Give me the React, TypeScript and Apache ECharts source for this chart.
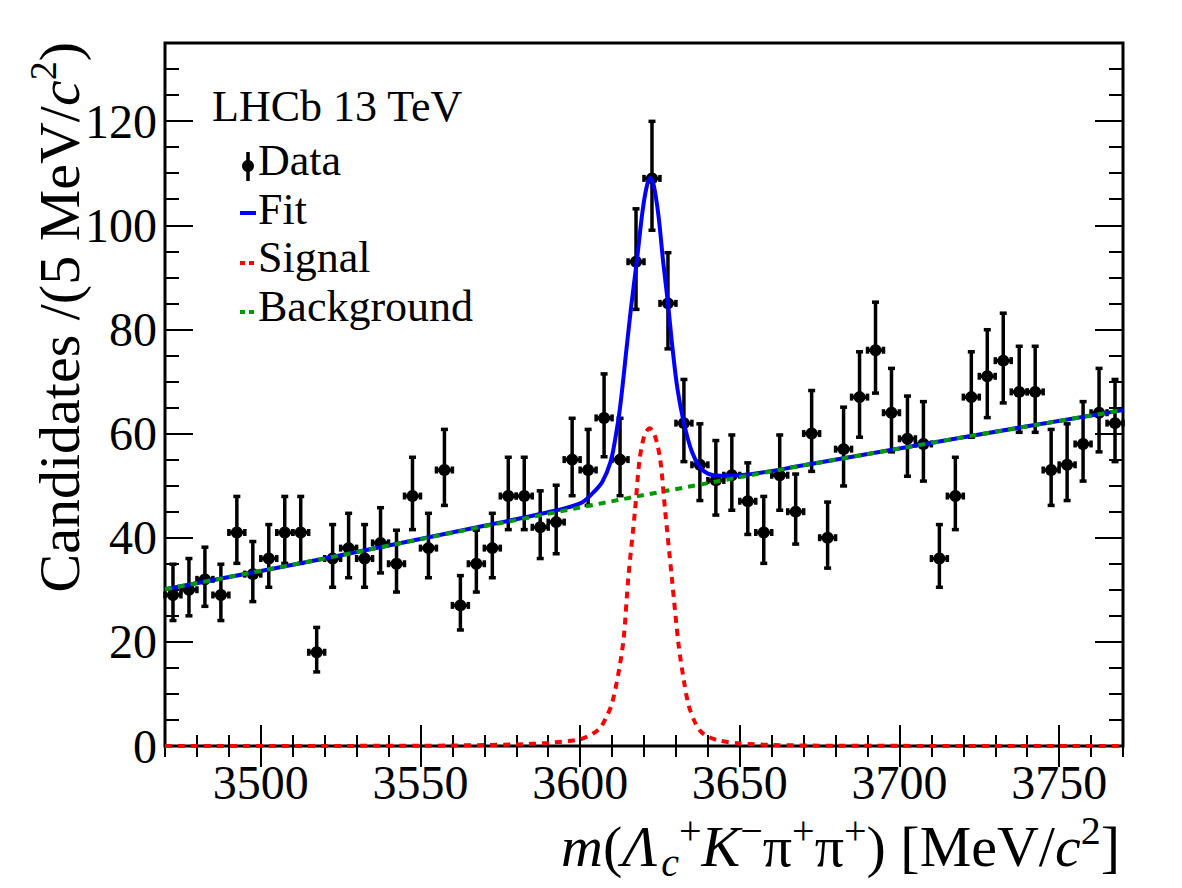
import React, { useEffect, useRef } from 'react';
import * as echarts from 'echarts';

// ---- data ----
const BIN_CENTERS = [
  3472.5, 3477.5, 3482.5, 3487.5, 3492.5, 3497.5, 3502.5, 3507.5, 3512.5, 3517.5,
  3522.5, 3527.5, 3532.5, 3537.5, 3542.5, 3547.5, 3552.5, 3557.5, 3562.5, 3567.5,
  3572.5, 3577.5, 3582.5, 3587.5, 3592.5, 3597.5, 3602.5, 3607.5, 3612.5, 3617.5,
  3622.5, 3627.5, 3632.5, 3637.5, 3642.5, 3647.5, 3652.5, 3657.5, 3662.5, 3667.5,
  3672.5, 3677.5, 3682.5, 3687.5, 3692.5, 3697.5, 3702.5, 3707.5, 3712.5, 3717.5,
  3722.5, 3727.5, 3732.5, 3737.5, 3742.5, 3747.5, 3752.5, 3757.5, 3762.5, 3767.5,
];
const COUNTS = [
  29, 30, 32, 29, 41, 33, 36, 41, 41, 18,
  36, 38, 36, 39, 35, 48, 38, 53, 27, 35,
  38, 48, 48, 42, 43, 55, 53, 63, 55, 93,
  109, 85, 62, 54, 51, 52, 47, 41, 52, 45,
  60, 40, 57, 67, 76, 64, 59, 58, 36, 48,
  67, 71, 74, 68, 68, 53, 54, 58, 64, 62,
];
const BIN_HALF_WIDTH = 2.5;

const FIT_X = [3470, 3520, 3570, 3590, 3600, 3604, 3607, 3609.5, 3611, 3612.5, 3614.6, 3616, 3617.8, 3619.5, 3620.8, 3621.9, 3623, 3624.5, 3626, 3627.5, 3629, 3630.5, 3632.5, 3635, 3637.5, 3640, 3644, 3650, 3670, 3720, 3770];
const FIT_Y = [30.1, 36.0, 42.3, 44.9, 46.6, 48.6, 50.8, 54.5, 59.0, 65.0, 76.7, 84.5, 93.4, 102.5, 107.3, 109.1, 107.8, 102, 93, 85, 76, 68.5, 62.0, 56.5, 53.6, 52.3, 51.9, 52.0, 53.9, 59.3, 64.5];

const SIG_X = [3470, 3550, 3580, 3590, 3600, 3604, 3606.3, 3608, 3609.9, 3612, 3613.6, 3615.1, 3617.2, 3618.6, 3620.2, 3621.8, 3623.4, 3625.1, 3626.6, 3628.7, 3630.8, 3632.5, 3633.9, 3635.7, 3637.6, 3640, 3643.9, 3650, 3660, 3680, 3770];
const SIG_Y = [0, 0.05, 0.3, 0.6, 1.3, 2.4, 3.5, 5.3, 8.0, 14.0, 20.5, 32.4, 45.3, 54.9, 59.8, 61.0, 59.6, 54.9, 45.3, 32.4, 19.6, 12.5, 8.0, 4.9, 2.9, 1.8, 1.0, 0.5, 0.2, 0.05, 0];

const BG_X = [3470, 3520, 3570, 3620, 3670, 3720, 3770];
const BG_Y = [30.1, 36.0, 42.2, 48.2, 53.9, 59.3, 64.5];

const X_MAJOR = [3500, 3550, 3600, 3650, 3700, 3750];
const X_MINOR = [3470, 3480, 3490, 3500, 3510, 3520, 3530, 3540, 3550, 3560, 3570, 3580, 3590, 3600, 3610, 3620, 3630, 3640, 3650, 3660, 3670, 3680, 3690, 3700, 3710, 3720, 3730, 3740, 3750, 3760, 3770];
const Y_MAJOR = [0, 20, 40, 60, 80, 100, 120];
const Y_MINOR = [0, 5, 10, 15, 20, 25, 30, 35, 40, 45, 50, 55, 60, 65, 70, 75, 80, 85, 90, 95, 100, 105, 110, 115, 120, 125, 130, 135];

const X_MIN = 3470;
const X_MAX = 3770;
const Y_MIN = 0;
const Y_MAX = 135;

const FONT = "'Liberation Serif', 'DejaVu Serif', serif";

export default function App() {
  const ref = useRef<HTMLDivElement>(null);

  useEffect(() => {
    if (!ref.current) return;
    const chart = echarts.init(ref.current, undefined, { renderer: 'svg' });

    // Poisson-style asymmetric errors derived from the counts
    const points = COUNTS.map((n, i) => {
      const s = Math.sqrt(n + 0.25);
      return [BIN_CENTERS[i], n, s - 0.5, s + 0.5];
    });

    const tickStyle = { color: '#000', width: 2 };
    const xBase = { type: 'value', min: X_MIN, max: X_MAX, splitLine: { show: false }, axisLine: { show: false } };
    const yBase = { type: 'value', min: Y_MIN, max: Y_MAX, splitLine: { show: false }, axisLine: { show: false } };
    const plain = (v: number) => String(v);
    const legendText = (text: string, x: number, y: number) => ({
      type: 'text', x, y,
      style: { text, fontSize: 44, lineHeight: 44, fontFamily: FONT, fill: '#000', verticalAlign: 'middle' },
    });

    const option: any = {
      animation: false,
      backgroundColor: '#fff',
      grid: {
        left: 165, right: 59, top: 43, bottom: 142,
        show: true, borderColor: '#000', borderWidth: 3, backgroundColor: 'transparent',
      },
      xAxis: [
        {
          ...xBase, position: 'bottom',
          axisTick: { inside: true, length: 21, lineStyle: tickStyle, customValues: X_MAJOR },
          axisLabel: { customValues: X_MAJOR, formatter: plain, fontSize: 48, color: '#000', fontFamily: FONT, margin: 12 },
        },
        {
          ...xBase, position: 'bottom',
          axisTick: { inside: true, length: 11, lineStyle: tickStyle, customValues: X_MINOR },
          axisLabel: { show: false },
        },
        {
          ...xBase, position: 'top',
          axisTick: { inside: true, length: 21, lineStyle: tickStyle, customValues: X_MAJOR },
          axisLabel: { show: false },
        },
        {
          ...xBase, position: 'top',
          axisTick: { inside: true, length: 11, lineStyle: tickStyle, customValues: X_MINOR },
          axisLabel: { show: false },
        },
      ],
      yAxis: [
        {
          ...yBase, position: 'left',
          axisTick: { inside: true, length: 28, lineStyle: tickStyle, customValues: Y_MAJOR },
          axisLabel: { customValues: Y_MAJOR, formatter: plain, fontSize: 48, color: '#000', fontFamily: FONT, margin: 8 },
        },
        {
          ...yBase, position: 'left',
          axisTick: { inside: true, length: 14, lineStyle: tickStyle, customValues: Y_MINOR },
          axisLabel: { show: false },
        },
        {
          ...yBase, position: 'right',
          axisTick: { inside: true, length: 28, lineStyle: tickStyle, customValues: Y_MAJOR },
          axisLabel: { show: false },
        },
        {
          ...yBase, position: 'right',
          axisTick: { inside: true, length: 14, lineStyle: tickStyle, customValues: Y_MINOR },
          axisLabel: { show: false },
        },
      ],
      series: [
        {
          name: 'Data',
          type: 'custom',
          xAxisIndex: 0,
          yAxisIndex: 0,
          z: 2,
          encode: { x: 0, y: 1 },
          data: points,
          renderItem: (params: any, api: any) => {
            const x = api.value(0);
            const y = api.value(1);
            const lo = api.value(2);
            const hi = api.value(3);
            const c = api.coord([x, y]);
            const top = api.coord([x, y + hi]);
            const bot = api.coord([x, y - lo]);
            const l = api.coord([x - BIN_HALF_WIDTH, y]);
            const r = api.coord([x + BIN_HALF_WIDTH, y]);
            const st = { stroke: '#000', lineWidth: 3.5 };
            const cap = 3.5;
            return {
              type: 'group',
              children: [
                { type: 'line', shape: { x1: c[0], y1: top[1], x2: c[0], y2: bot[1] }, style: st },
                { type: 'line', shape: { x1: c[0] - cap, y1: top[1], x2: c[0] + cap, y2: top[1] }, style: st },
                { type: 'line', shape: { x1: c[0] - cap, y1: bot[1], x2: c[0] + cap, y2: bot[1] }, style: st },
                { type: 'line', shape: { x1: l[0], y1: c[1], x2: r[0], y2: c[1] }, style: st },
                { type: 'line', shape: { x1: l[0], y1: c[1] - cap, x2: l[0], y2: c[1] + cap }, style: st },
                { type: 'line', shape: { x1: r[0], y1: c[1] - cap, x2: r[0], y2: c[1] + cap }, style: st },
                { type: 'circle', shape: { cx: c[0], cy: c[1], r: 6 }, style: { fill: '#000' } },
              ],
            };
          },
        },
        {
          name: 'Fit',
          type: 'line',
          xAxisIndex: 0,
          yAxisIndex: 0,
          z: 3,
          data: FIT_X.map((x, i) => [x, FIT_Y[i]]),
          showSymbol: false,
          smooth: 0.35,
          lineStyle: { color: '#0000ff', width: 4 },
        },
        {
          name: 'Background',
          type: 'line',
          xAxisIndex: 0,
          yAxisIndex: 0,
          z: 4,
          data: BG_X.map((x, i) => [x, BG_Y[i]]),
          showSymbol: false,
          lineStyle: { color: '#009a00', width: 4, type: [7, 6] },
        },
        {
          name: 'Signal',
          type: 'line',
          xAxisIndex: 0,
          yAxisIndex: 0,
          z: 5,
          clip: false,
          data: SIG_X.map((x, i) => [x, SIG_Y[i]]),
          showSymbol: false,
          smooth: 0.3,
          lineStyle: { color: '#ff0000', width: 4, type: [7, 6] },
        },
      ],
      graphic: [
        // y-axis title
        {
          type: 'text',
          x: 59,
          y: 42,
          rotation: Math.PI / 2,
          style: {
            text: '{n|Candidates /(5 MeV/}{i|c}{s|2}{n|)}',
            align: 'right',
            verticalAlign: 'middle',
            fill: '#000',
            rich: {
              n: { fontSize: 58, fontFamily: FONT, lineHeight: 70, verticalAlign: 'middle' },
              i: { fontSize: 58, fontFamily: FONT, fontStyle: 'italic', lineHeight: 70, verticalAlign: 'middle' },
              s: { fontSize: 38, fontFamily: FONT, lineHeight: 44, verticalAlign: 'top' },
            },
          },
        },
        // x-axis title
        {
          type: 'text',
          x: 1120,
          y: 846,
          style: {
            text: '{i|m}{n|(}{i|Λ}{b|c}{p|+}{i|K}{p|−}{n|π}{p|+}{n|π}{p|+}{n|) [MeV/}{i|c}{q|2}{n|]}',
            align: 'right',
            verticalAlign: 'middle',
            fill: '#000',
            rich: {
              n: { fontSize: 58, fontFamily: FONT, lineHeight: 72, verticalAlign: 'middle' },
              i: { fontSize: 58, fontFamily: FONT, fontStyle: 'italic', lineHeight: 72, verticalAlign: 'middle' },
              p: { fontSize: 40, fontFamily: FONT, lineHeight: 54, verticalAlign: 'top' },
              q: { fontSize: 40, fontFamily: FONT, lineHeight: 46, verticalAlign: 'top' },
              b: { fontSize: 40, fontFamily: FONT, fontStyle: 'italic', lineHeight: 34, verticalAlign: 'bottom', padding: [0, 0, 0, 4] },
            },
          },
        },
        // legend
        legendText('LHCb 13 TeV', 212, 106),
        { type: 'line', shape: { x1: 248, y1: 152, x2: 248, y2: 181 }, style: { stroke: '#000', lineWidth: 3.5 } },
        { type: 'circle', shape: { cx: 248, cy: 166, r: 6 }, style: { fill: '#000' } },
        legendText('Data', 258, 160),
        { type: 'line', shape: { x1: 240, y1: 213, x2: 256, y2: 213 }, style: { stroke: '#0000ff', lineWidth: 4 } },
        legendText('Fit', 258, 209),
        { type: 'line', shape: { x1: 240, y1: 263, x2: 257, y2: 263 }, style: { stroke: '#ff0000', lineWidth: 4, lineDash: [5, 4] } },
        legendText('Signal', 258, 257),
        { type: 'line', shape: { x1: 240, y1: 312, x2: 257, y2: 312 }, style: { stroke: '#009a00', lineWidth: 4, lineDash: [5, 4] } },
        legendText('Background', 258, 306),
      ],
    };

    chart.setOption(option);
    return () => {
      chart.dispose();
    };
  }, []);

  return (
    <div
      ref={ref}
      style={{ position: 'fixed', left: 0, top: 0, width: 1182, height: 888, background: '#fff' }}
    />
  );
}
